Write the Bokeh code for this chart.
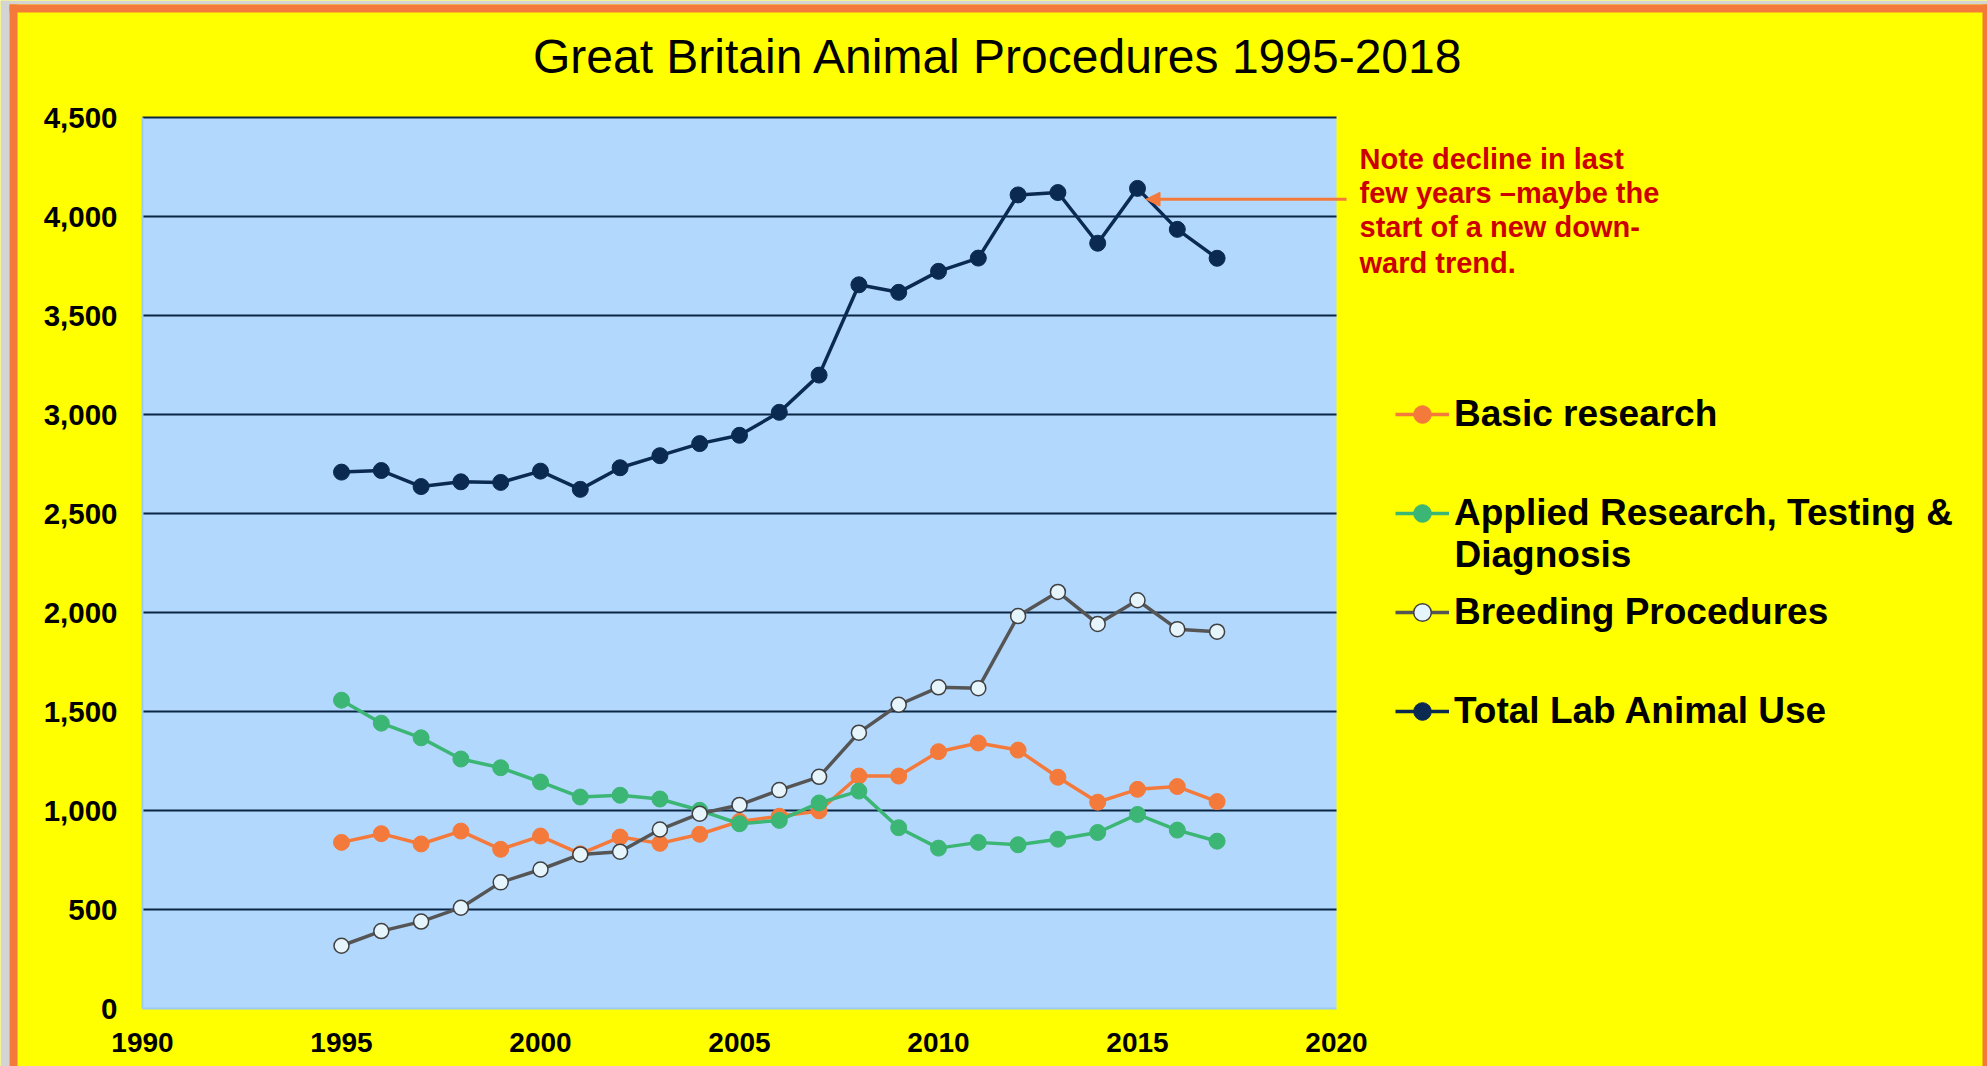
from bokeh.plotting import figure
from bokeh.models import (Range1d, FixedTicker, NumeralTickFormatter, Legend, LegendItem,
                          Label, Arrow, NormalHead, BoxAnnotation)
from bokeh.embed import file_html
from bokeh.resources import INLINE

# ---- data (thousands of procedures) ----
years = list(range(1995, 2018))
basic_research = [839, 883, 831, 896, 804, 871, 781, 866, 834, 880,
                  945, 971, 998, 1174, 1174, 1297, 1341, 1305, 1168, 1042, 1107, 1121, 1045]
applied_research = [1557, 1441, 1367, 1260, 1216, 1144, 1068, 1077, 1058, 1001,
                    933, 950, 1038, 1098, 913, 810, 839, 827, 855, 889, 980, 901, 845]
breeding = [317, 391, 439, 509, 637, 702, 778, 792, 904, 984,
            1028, 1103, 1170, 1393, 1534, 1622, 1618, 1982, 2104, 1942, 2062, 1916, 1903]
total = [2709, 2717, 2636, 2660, 2657, 2714, 2622, 2731, 2792, 2853,
         2895, 3011, 3199, 3655, 3617, 3723, 3790, 4109, 4121, 3865, 4142, 3935, 3789]

x_ticks = [1990, 1995, 2000, 2005, 2010, 2015, 2020]
y_ticks = [0, 500, 1000, 1500, 2000, 2500, 3000, 3500, 4000, 4500]
grid_ticks = [500, 1000, 1500, 2000, 2500, 3000, 3500, 4000, 4500]

title_text = "Great Britain Animal Procedures 1995-2018"
note_lines = ["Note decline in last", "few years \u2013maybe the", "start of a new down-", "ward trend."]
series_names = ["Basic research", "Applied Research, Testing &", "Breeding Procedures", "Total Lab Animal Use"]
second_line = "Diagnosis"

ORANGE = "#f47a3c"
GREEN = "#3cb675"
GREY = "#555555"
NAVY = "#0b2a52"
YELLOW = "#ffff00"
BLUE = "#b3d8fd"
PAGE_GREY = "#d4d4d4"
FONT = "Liberation Sans"

# ---- layout geometry (page pixels) ----
W, H = 1987, 1066          # canvas size, placed at (0, 0)
X0 = Y0 = 0
PX_L, PX_R = 142, 1336     # plot area left/right
PY_T, PY_B = 117, 1008     # plot area top/bottom
XMIN, XMAX = x_ticks[0], x_ticks[-1]
YMIN, YMAX = y_ticks[0], y_ticks[-1]
sx = (PX_R - PX_L) / (XMAX - XMIN)
sy = (PY_B - PY_T) / (YMAX - YMIN)


def px_to_x(px):
    return XMIN + (px - PX_L) / sx


def py_to_y(py):
    return YMIN + (PY_B - py) / sy


p = figure(width=W, height=H,
           x_range=Range1d(px_to_x(X0), px_to_x(X0 + W)),
           y_range=Range1d(py_to_y(Y0 + H), py_to_y(Y0)),
           output_backend="svg", toolbar_location=None,
           min_border_left=0, min_border_right=0, min_border_top=0, min_border_bottom=0,
           background_fill_color=YELLOW, border_fill_color=YELLOW)
p.outline_line_color = None

# blue plotting area
p.add_layout(BoxAnnotation(left=XMIN, right=XMAX, bottom=YMIN, top=YMAX,
                           fill_color=BLUE, fill_alpha=1, line_color=None, level="underlay"))


# page margin (grey) and orange frame strips (left, top, right)
def strip(color, **kw):
    p.add_layout(BoxAnnotation(fill_color=color, fill_alpha=1, line_color=None,
                               level="overlay", **kw))


strip(PAGE_GREY, right=px_to_x(9))
strip(PAGE_GREY, bottom=py_to_y(4))
strip(ORANGE, left=px_to_x(9), right=px_to_x(17), top=py_to_y(4))
strip(ORANGE, left=px_to_x(9), top=py_to_y(4), bottom=py_to_y(12))
strip(ORANGE, left=px_to_x(1982), top=py_to_y(4))

# axes at fixed locations
p.xaxis.fixed_location = YMIN
p.yaxis.fixed_location = XMIN
p.xaxis.bounds = (XMIN, XMAX)
p.yaxis.bounds = (YMIN, YMAX)
p.xaxis.ticker = FixedTicker(ticks=x_ticks)
p.yaxis.ticker = FixedTicker(ticks=y_ticks)
p.yaxis.formatter = NumeralTickFormatter(format="0,0")
for ax in (p.xaxis, p.yaxis):
    ax.major_label_text_font = FONT
    ax.major_label_text_font_style = "bold"
    ax.major_label_text_font_size = "28px"
    ax.major_label_text_color = "black"
    ax.major_tick_out = 0
    ax.major_tick_in = 0
    ax.minor_tick_out = 0
    ax.minor_tick_in = 0
    ax.axis_line_color = "#9ccaf3"
    ax.axis_line_width = 2
p.yaxis.major_label_text_font_size = "29.5px"
p.yaxis.major_label_standoff = 25
p.xaxis.major_label_standoff = 24

p.xgrid.visible = False
p.ygrid.visible = False

# horizontal grid lines across the plotting area only
p.segment(x0=[XMIN] * len(grid_ticks), x1=[XMAX] * len(grid_ticks),
          y0=grid_ticks, y1=grid_ticks, line_color="#0b2545", line_width=2)

# series
l1 = p.line(years, basic_research, line_color=ORANGE, line_width=3.5)
s1 = p.scatter(years, basic_research, size=16, fill_color=ORANGE, line_color=ORANGE)
l2 = p.line(years, applied_research, line_color=GREEN, line_width=3.5)
s2 = p.scatter(years, applied_research, size=16, fill_color=GREEN, line_color=GREEN)
l3 = p.line(years, breeding, line_color=GREY, line_width=3.5)
s3 = p.scatter(years, breeding, size=15, fill_color="#e6f5fc", line_color="#404040", line_width=1.5)
l4 = p.line(years, total, line_color=NAVY, line_width=3.5)
s4 = p.scatter(years, total, size=16, fill_color=NAVY, line_color=NAVY)

legend = Legend(items=[LegendItem(label=series_names[0], renderers=[l1, s1]),
                       LegendItem(label=series_names[1], renderers=[l2, s2]),
                       LegendItem(label=series_names[2], renderers=[l3, s3]),
                       LegendItem(label=series_names[3], renderers=[l4, s4])],
                location=(1395 - X0, (Y0 + H) - 733), orientation="vertical",
                glyph_width=54, glyph_height=44, label_height=44, spacing=55,
                padding=0, margin=0, label_standoff=5,
                border_line_color=None, background_fill_alpha=0,
                label_text_font=FONT, label_text_font_style="bold",
                label_text_font_size="37px", label_text_color="black")
p.add_layout(legend)

p.add_layout(Label(x=px_to_x(1454), y=py_to_y(554), text=second_line,
                   text_align="left", text_baseline="middle",
                   text_font=FONT, text_font_style="bold", text_font_size="37px", text_color="black"))

# title
p.add_layout(Label(x=px_to_x(998), y=py_to_y(56), text=title_text,
                   text_align="center", text_baseline="middle",
                   text_font=FONT, text_font_size="48px", text_color="black"))

# note
for txt, py in zip(note_lines, [158, 192, 226.5, 262]):
    p.add_layout(Label(x=px_to_x(1359), y=py_to_y(py), text=txt,
                       text_align="left", text_baseline="middle",
                       text_font=FONT, text_font_style="bold", text_font_size="29px",
                       text_color="#cc0000"))

p.add_layout(Arrow(end=NormalHead(size=14, fill_color=ORANGE, line_color=ORANGE),
                   x_start=px_to_x(1346), y_start=py_to_y(198.7),
                   x_end=px_to_x(1145.5), y_end=py_to_y(198.7),
                   line_color=ORANGE, line_width=3))

open("out.html", "w").write(file_html(p, INLINE))
